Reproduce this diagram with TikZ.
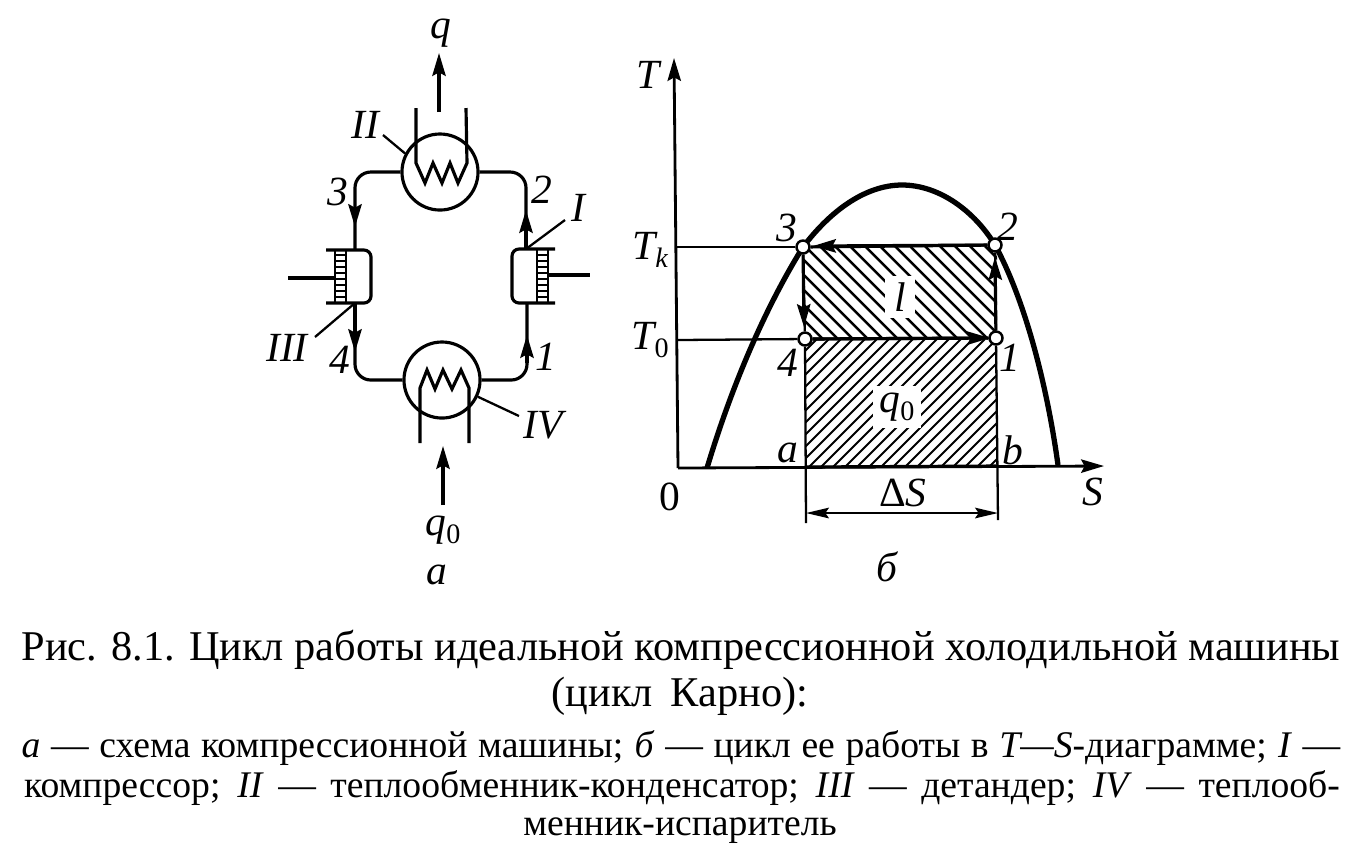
\documentclass[tikz,border=0pt]{standalone}
\usepackage{fontspec}
\setmainfont{Liberation Serif}
\usetikzlibrary{arrows.meta}
\newcommand{\lowsub}[1]{\raisebox{-0.45ex}{\footnotesize #1}}
\newcommand{\capA}{\fontsize{12.05pt}{14pt}\selectfont}
\newcommand{\capB}{\fontsize{10.7pt}{12pt}\selectfont}
\tikzset{
    lab/.style={font=\fontsize{11.8pt}{13pt}\selectfont\itshape},
    pipe/.style={line width=0.9pt},
    thin line/.style={line width=0.65pt},
    flow/.style={-{Stealth[length=6.5pt,width=3.8pt,inset=1pt]}},
    hx/.style={draw,circle,line width=0.9pt,minimum size=0.76cm},
    pt/.style={draw,circle,fill=white,line width=0.7pt,minimum size=0.13cm}
}
\begin{document}
\begin{tikzpicture}[x=0.01cm,y=-0.01cm]
    \tikzstyle{every node}=[inner sep=0pt]
    \useasboundingbox (0,0) rectangle (1372,856);
    % heat exchangers
    \draw (440,172) node [hx] (cond) {};
    \draw (442,380) node [hx] (evap) {};
    \draw[pipe] (416,108) -- (416,163) -- (425,183) -- (433,163) -- (442,183) -- (450,163) -- (458,183) -- (467,163) -- (466,108);
    \draw[pipe] (420,443) -- (420,388) -- (427,370) -- (435,389) -- (443,370) -- (452,389) -- (461,370) -- (469,388) -- (469,443);
    % compressor and expander
    \draw[pipe,rounded corners=2pt] (555,249) -- (512,249) -- (512,303) -- (555,303);
    \draw[pipe,rounded corners=2pt] (326,250) -- (371,250) -- (371,303) -- (326,303);
    \foreach \px in {537,548} \draw[thin line] (\px,249) -- (\px,303);
    \foreach \px in {335,346} \draw[thin line] (\px,250) -- (\px,303);
    \foreach \py in {255,261,...,300} {
        \draw[line width=0.8pt] (537,\py) -- (548,\py);
        \draw[line width=0.8pt] (335,\py) -- (346,\py);
    }
    \coordinate (compT) at (526,249);
    \coordinate (compB) at (527,303);
    \coordinate (expT) at (355,250);
    \coordinate (expB) at (355,303);
    \coordinate (tipA) at (526,210);
    \coordinate (tipB) at (355,227);
    \coordinate (tipC) at (355,352);
    \coordinate (tipD) at (527,335);
    \draw[pipe,rounded corners=4.5pt] (compT) |- (cond.east);
    \draw[pipe,rounded corners=4.5pt] (cond.west) -| (expT);
    \draw[pipe,rounded corners=4.5pt] (expB) |- (evap.west);
    \draw[pipe,rounded corners=4.5pt] (evap.east) -| (compB);
    \draw[pipe,flow] (compT) -- (tipA);
    \draw[pipe,flow] (expT) ++(0,-40) -- (tipB);
    \draw[pipe,flow] (expB) -- (tipC);
    \draw[pipe,flow] (compB) ++(0,60) -- (tipD);
    % rods
    \coordinate (rodR) at (590,275);
    \coordinate (rodRs) at (548,275);
    \coordinate (rodL) at (288,278);
    \coordinate (rodLs) at (335,278);
    \draw[pipe] (rodRs) -- (rodR);
    \draw[pipe] (rodL) -- (rodLs);
    % heat in and out
    \draw (441,33) node[lab] (qout) {q};
    \draw (443,530) node[lab] (qin) {q\lowsub{\upshape 0}};
    \coordinate (qoutS) at (439,112);
    \coordinate (qoutE) at (439,53);
    \coordinate (qinS) at (443,505);
    \coordinate (qinE) at (443,446);
    \draw[pipe,flow] (qoutS) -- (qoutE);
    \draw[pipe,flow] (qinS) -- (qinE);
    % labels of the scheme
    \draw (365,125) node[lab] (mII) {II};
    \draw (578,208) node[lab] (mI) {I};
    \draw (287,348) node[lab] (mIII) {III};
    \draw (543,425) node[lab] (mIV) {IV};
    \draw (338,192) node[lab] (n3) {3};
    \draw (542,190) node[lab] (n2) {2};
    \draw (340,360) node[lab] (n4) {4};
    \draw (546,357) node[lab] (n1) {1};
    \draw (437,575) node[lab] (capa) {а};
    \coordinate (leadII) at (383,135);
    \coordinate (leadI) at (565,220);
    \coordinate (leadIII) at (315,337);
    \coordinate (leadIV) at (519,416);
    \draw[thin line] (leadII) -- (cond.152);
    \draw[thin line] (leadI) -- (compT);
    \draw[thin line] (leadIII) -- (expB);
    \draw[thin line] (leadIV) -- (evap.-25);
    % hatching of the T-S cycle
    \begin{scope}
        \clip (804,246) rectangle (997,339);
        \foreach \hs in {700,715,...,1000} \draw[line width=0.7pt] (\hs,246) -- ++(93,93);
    \end{scope}
    \begin{scope}
        \clip (805,339) rectangle (997,467);
        \foreach \hs in {677,689,...,1000} \draw[line width=0.55pt] (\hs,467) -- ++(128,-128);
    \end{scope}
    \draw (900,297) node[lab,fill=white,inner xsep=2.5pt,inner ysep=2pt] (wl) {l};
    \draw (897,407) node[lab,fill=white,inner xsep=2pt,inner ysep=2pt] (wq) {q\lowsub{\upshape 0}};
    % axes and dome
    \coordinate (org) at (678,468);
    \coordinate (axT) at (674,58);
    \coordinate (axS) at (1104,466);
    \draw[line width=0.8pt,flow] (org) -- (axT);
    \draw[line width=0.8pt,flow] (org) -- (axS);
    \draw[line width=1.5pt] (707,468) .. controls (735,375) and (770,300) .. (803,247) .. controls (835,205) and (870,185) .. (902,185) .. controls (940,185) and (975,212) .. (995,245) .. controls (1025,300) and (1047,385) .. (1058,465);
    % cycle points
    \draw (803,247) node [pt] (v3) {};
    \draw (995,245) node [pt] (v2) {};
    \draw (805,339) node [pt] (v4) {};
    \draw (996,338) node [pt] (v1) {};
    \coordinate (pa) at (805,467);
    \coordinate (pb) at (998,466);
    \coordinate (pad) at (806,523);
    \coordinate (pbd) at (998,520);
    \coordinate (dl) at (806,513);
    \coordinate (dr) at (998,513);
    \coordinate (tk) at (677,247);
    \coordinate (t0) at (677,340);
    \coordinate (tipE) at (813,246);
    \coordinate (tipF) at (995,257);
    \coordinate (tipG) at (804,327);
    \coordinate (tipH) at (990,338);
    \draw[pipe] (v2) -- (v3);
    \draw[thin line] (v1) -- (v2);
    \draw[thin line] (v3) -- (v4);
    \draw[pipe] (v4) -- (v1);
    \draw[pipe,flow] (v2) -- (tipE);
    \draw[pipe,flow] (v1) -- (tipF);
    \draw[pipe,flow] (v3) -- (tipG);
    \draw[pipe,flow] (v4) -- (tipH);
    \draw[thin line] (tk) -- (v3);
    \draw[thin line] (t0) -- (v4);
    \draw[thin line] (v4) -- (pad);
    \draw[thin line] (v1) -- (pbd);
    \draw[thin line,{Stealth[length=6.5pt,width=3pt,inset=1pt]}-{Stealth[length=6.5pt,width=3pt,inset=1pt]}] (dl) -- (dr);
    \draw[pipe] (pa) -- (pb);
    % labels of the diagram
    \draw (648,75) node[lab] (lT) {T};
    \draw (650,250) node[lab] (lTk) {T\lowsub{k}};
    \draw (650,340) node[lab] (lT0) {T\lowsub{\upshape 0}};
    \draw (670,497) node[lab,font=\fontsize{11.8pt}{13pt}\selectfont] (l0) {0};
    \draw (1093,492) node[lab] (lS) {S};
    \draw (903,493) node[lab] (lDS) {{\upshape Δ}S};
    \draw (787,228) node[lab] (p3) {3};
    \draw (1008,227) node[lab] (p2) {2};
    \draw (788,363) node[lab] (p4) {4};
    \draw (1010,358) node[lab] (p1) {1};
    \draw (788,453) node[lab] (la) {a};
    \draw (1013,450) node[lab] (lb) {b};
    \draw (887,567) node[lab] (capb) {б};
    % caption
    \draw (681,660) node[anchor=base] (c1) {\capA Рис. 8.1. Цикл работы идеальной компрессионной холодильной машины};
    \draw (680,706) node[anchor=base] (c2) {\capA (цикл\, Карно):};
    \draw (681,757) node[anchor=base] (c3) {\capB\makebox[13.18cm][s]{\textit{а} --- схема компрессионной машины; \textit{б} --- цикл ее работы в \textit{T---S}-диаграмме; \textit{I} ---}};
    \draw (682,797) node[anchor=base] (c4) {\capB\makebox[13.15cm][s]{компрессор; \textit{II} --- теплообменник-конденсатор; \textit{III} --- детандер; \textit{IV} --- теплооб-}};
    \draw (680,835) node[anchor=base] (c5) {\capB менник-испаритель};
\end{tikzpicture}
\end{document}
